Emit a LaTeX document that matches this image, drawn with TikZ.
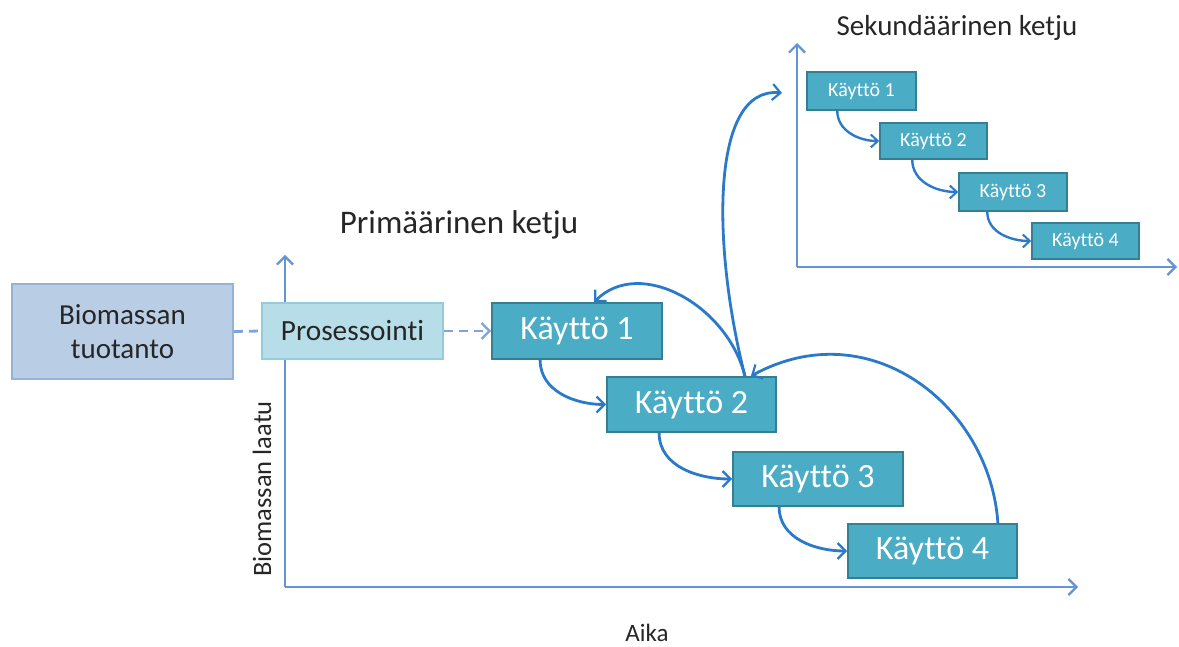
\documentclass[tikz,border=0pt]{standalone}
\usepackage{fontspec}
\setmainfont{Carlito}[Ligatures={NoCommon}]
\usetikzlibrary{arrows.meta}
\definecolor{boxfill}{HTML}{4BACC6}
\definecolor{boxdraw}{HTML}{357F93}
\definecolor{biofill}{HTML}{B9CDE5}
\definecolor{biodraw}{HTML}{95B3D7}
\definecolor{profill}{HTML}{B7DEE8}
\definecolor{prodraw}{HTML}{92CDDC}
\definecolor{axiscol}{HTML}{6593D3}
\definecolor{arrcol}{HTML}{2A7AC9}
\definecolor{dashcol}{HTML}{7EA4D8}
\definecolor{txt}{HTML}{262626}
\tikzset{
  usebox/.style={draw=boxdraw, fill=boxfill, line width=1.8pt, text=white, inner sep=0pt,
    font=\fontsize{34}{37}\selectfont},
  smallbox/.style={usebox, line width=1.5pt, font=\fontsize{20}{22}\selectfont},
  axisline/.style={draw=axiscol, line width=2.8pt, -{Straight Barb[length=8pt,width=16pt,line width=2.2pt]}},
  flow/.style={draw=arrcol, line width=2.8pt, -{Straight Barb[length=8pt,width=16pt,line width=2.2pt]}},
  sflow/.style={draw=arrcol, line width=2.4pt, -{Straight Barb[length=7pt,width=13pt,line width=2pt]}},
  dashline/.style={draw=dashcol, line width=2.8pt, dash pattern=on 9pt off 6pt},
  label/.style={text=txt, inner sep=0pt}
}
\begin{document}
\begin{tikzpicture}[x=1pt,y=1pt]
\useasboundingbox (0,0) rectangle (1179,646);
% axes
\coordinate (o1) at (285,59);
\coordinate (y1) at (285,391);
\coordinate (x1) at (1078,59);
\coordinate (o2) at (797,379);
\coordinate (y2) at (797,603);
\coordinate (x2) at (1177,379);
\draw[axisline] (o1) -- (y1);
\draw[axisline] (o1) -- (x1);
\draw[axisline] (o2) -- (y2);
\draw[axisline] (o2) -- (x2);
% labels
\node[label, font=\fontsize{33}{36}\selectfont] (prim) at (459,421) {Primäärinen ketju};
\node[label, font=\fontsize{29}{32}\selectfont] (sek) at (957,618) {Sekundäärinen ketju};
\node[label, font=\fontsize{25}{28}\selectfont] (aika) at (647,13) {Aika};
\node[label, font=\fontsize{26.5}{29}\selectfont, rotate=90] (laatu) at (262,157) {Biomassan laatu};
% left boxes
\node[draw=biodraw, fill=biofill, line width=1.8pt, minimum width=221pt, minimum height=95pt,
  text=txt, align=center, font=\fontsize{29}{34}\selectfont, inner sep=0pt] (bio) at (122.5,314.5) {Biomassan\\tuotanto};
\node[draw=prodraw, fill=profill, line width=1.8pt, minimum width=181pt, minimum height=56pt,
  text=txt, font=\fontsize{29.3}{33}\selectfont, inner sep=0pt] (pro) at (352.5,315) {Prosessointi};
% primary chain
\node[usebox, minimum width=170pt, minimum height=56pt] (k1) at (577,315) {Käyttö 1};
\node[usebox, minimum width=169pt, minimum height=55pt] (k2) at (691.5,241.5) {Käyttö 2};
\node[usebox, minimum width=170pt, minimum height=54pt] (k3) at (818,167) {Käyttö 3};
\node[usebox, minimum width=169pt, minimum height=54pt] (k4) at (932.5,95) {Käyttö 4};
% secondary chain
\node[smallbox, minimum width=109pt, minimum height=38pt] (s1) at (861.5,555) {Käyttö 1};
\node[smallbox, minimum width=107pt, minimum height=36pt] (s2) at (933.5,505) {Käyttö 2};
\node[smallbox, minimum width=108pt, minimum height=38pt] (s3) at (1013,454) {Käyttö 3};
\node[smallbox, minimum width=107pt, minimum height=36pt] (s4) at (1085.5,405) {Käyttö 4};
% dashed
\draw[dashline] (bio.east) -- (pro.west);
\draw[dashline, -{Straight Barb[length=8pt,width=16pt,line width=2.2pt]}] (pro.east) -- (k1.west);
% primary flows
\draw[flow] ([xshift=49pt]k1.south west) to[out=-90, in=180] (k2.west);
\draw[flow] ([xshift=53pt]k2.south west) to[out=-90, in=180] (k3.west);
\draw[flow] ([xshift=47pt]k3.south west) to[out=-90, in=180] (k4.west);
\draw[flow] ([xshift=-20pt]k4.north east) .. controls (990,240) and (870,335) .. ([xshift=-26pt]k2.north east);
\draw[flow] ([xshift=-32pt]k2.north east) .. controls (728,340) and (640,390) .. ([xshift=103pt]k1.north west);
\draw[flow] ([xshift=-32pt]k2.north east) .. controls (712,400) and (710,560) .. (782,553);
% secondary flows
\draw[sflow] ([xshift=31pt]s1.south west) to[out=-90, in=180] (s2.west);
\draw[sflow] ([xshift=33pt]s2.south west) to[out=-90, in=180] (s3.west);
\draw[sflow] ([xshift=29pt]s3.south west) to[out=-90, in=180] (s4.west);
\end{tikzpicture}
\end{document}
